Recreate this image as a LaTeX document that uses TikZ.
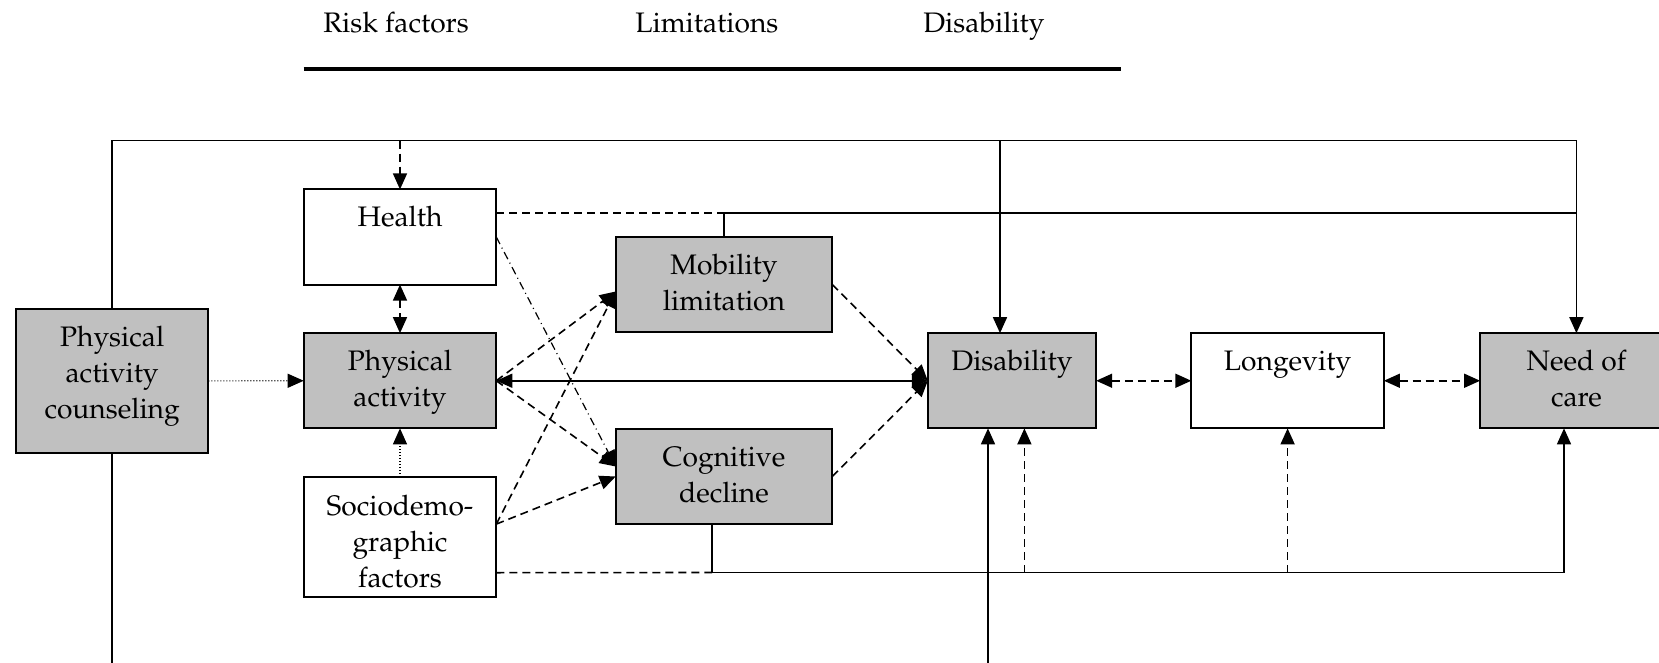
\documentclass[tikz,border=0pt]{standalone}
\usepackage[T1]{fontenc}
\usepackage{mathpazo}
\usetikzlibrary{arrows.meta}
\definecolor{boxgray}{RGB}{192,192,192}
\begin{document}
\begin{tikzpicture}[x=0.5pt,y=-0.5pt,
  box/.style={draw, line width=1pt, inner sep=0pt, outer sep=0pt, minimum width=96.3pt, minimum height=47.6pt},
  gbox/.style={box, fill=boxgray},
  btext/.style={anchor=north, align=center, inner sep=0pt, font=\fontsize{14.1}{18}\selectfont},
  htext/.style={anchor=base west, inner sep=0pt, font=\fontsize{14.1}{18}\selectfont},
  conn/.style={line width=0.8pt},
  dashl/.style={conn, dash pattern=on 4pt off 2.5pt},
  dotl/.style={conn, line width=0.6pt, dash pattern=on 0.5pt off 1pt},
  ddl/.style={conn, line width=0.6pt, dash pattern=on 4pt off 2pt on 0.5pt off 2pt},
  >={Triangle[length=8pt,width=7pt]}]
\clip (0,0) rectangle (1659,663);
% header
\node[htext] (hrisk) at (323,33) {Risk factors};
\node[htext] (hlim) at (635,33) {Limitations};
\node[htext] (hdis) at (923,33) {Disability};
\draw[line width=2pt] (303.7,69) -- (1120.6,69);
% boxes
\node[box]  (health) at (400,237) {};
\node[gbox] (pa) at (400,380.75) {};
\node[box, minimum height=60pt] (socio) at (400,536.7) {};
\node[gbox, minimum height=71.9pt] (pac) at (112.15,380.9) {};
\node[gbox, minimum width=108.3pt, minimum height=47.8pt] (mob) at (724,284.5) {};
\node[gbox, minimum width=108.3pt, minimum height=47.8pt] (cog) at (724,476.5) {};
\node[gbox, minimum width=84.2pt] (dis) at (1012,380.75) {};
\node[box]  (lon) at (1287.6,380.75) {};
\node[gbox] (need) at (1576.4,380.75) {};
% texts
\node[btext] (thealth) at ([yshift=-6pt]health.north) {\strut Health};
\node[btext] (tpa) at ([yshift=-6pt]pa.north) {\strut Physical\\activity};
\node[btext] (tsocio) at ([yshift=-6.5pt]socio.north) {\strut Sociodemo-\\graphic\\factors};
\node[btext] (tpac) at ([yshift=-6pt]pac.north) {\strut Physical\\activity\\counseling};
\node[btext] (tmob) at ([yshift=-6pt]mob.north) {\strut Mobility\\limitation};
\node[btext] (tcog) at ([yshift=-6pt]cog.north) {\strut Cognitive\\decline};
\node[btext] (tdis) at ([yshift=-6pt]dis.north) {\strut Disability};
\node[btext] (tlon) at ([yshift=-6pt]lon.north) {\strut Longevity};
\node[btext] (tneed) at ([yshift=-6pt]need.north) {\strut Need of\\care};
% junction coordinates
\coordinate (topY) at (0,140.7);
\coordinate (hj) at (724,213);
\coordinate (cj) at (712,572.5);
\coordinate (nb) at (1564,572.5);
\coordinate (d1) at (1024.4,572.5);
\coordinate (d0) at (988,670);
\coordinate (dtop) at (1000,140.7);
\coordinate (pb) at (112.15,670);
% top line
\draw[conn,->] (pac.north) |- (need.north |- topY) -- (need.north);
\draw[conn,->] (dtop) -- (dis.north -| dtop);
\draw[dashl,->] (health.north |- topY) -- (health.north);
\draw[conn] (pac.south) -- (pb);
% health line
\draw[dashl] ([yshift=12pt]health.east) -- (hj);
\draw[conn] (mob.north) -- (hj) -- (need.north |- hj);
% left part
\draw[dashl,<->] (health.south) -- (pa.north);
\draw[dotl,->] (pac.east) -- (pa.west);
\draw[dotl,->] (socio.north) -- (pa.south);
\draw[conn,<->] (pa.east) -- (dis.west);
\draw[dashl,->] (pa.east) -- ([yshift=-3.5pt]mob.west);
\draw[dashl,->] (pa.east) -- ([yshift=5pt]cog.west);
\draw[dashl,->] ([yshift=6.3pt]socio.east) -- ([yshift=-3.5pt]mob.west);
\draw[dashl,->] ([yshift=6.3pt]socio.east) -- (cog.west);
\draw[ddl,->] (health.east) -- ([yshift=5pt]cog.west);
\draw[dashl,->] (mob.east) -- (dis.west);
\draw[dashl,->] (cog.east) -- (dis.west);
\draw[dashl,<->] (dis.east) -- (lon.west);
\draw[dashl,<->] (lon.east) -- (need.west);
% bottom line
\draw[dashl] ([yshift=-18pt]socio.east) -- (cj);
\draw[conn] (cog.south -| cj) -- (cj) -- (nb);
\draw[conn,->] (nb) -- (need.south -| nb);
\draw[dashl,->] (d1) -- (dis.south -| d1);
\draw[dashl,->] (lon.south |- cj) -- (lon.south);
\draw[conn,->] (d0) -- (dis.south -| d0);
\end{tikzpicture}
\end{document}
